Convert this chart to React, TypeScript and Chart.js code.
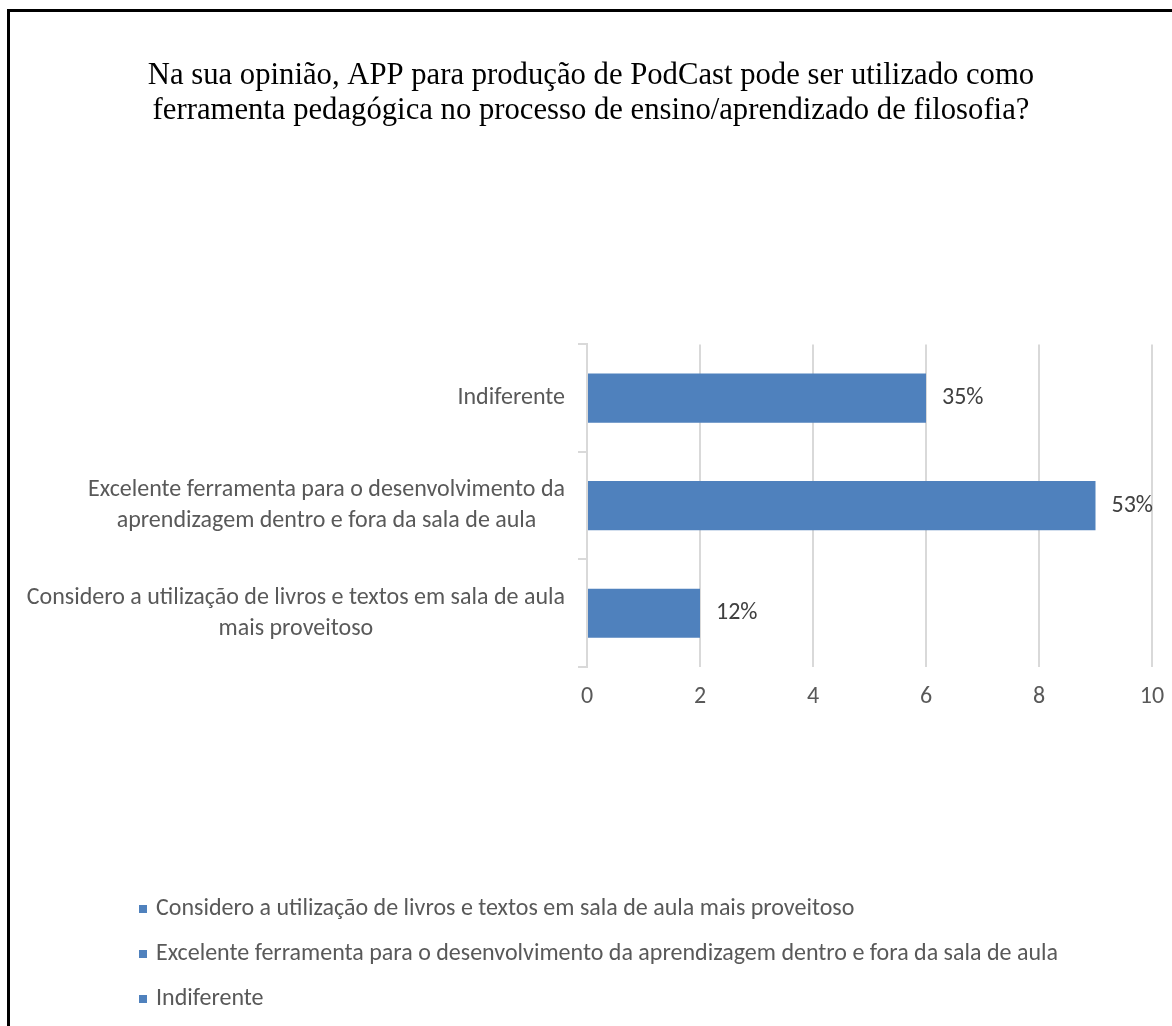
import React, { useEffect, useRef } from 'react';
import { Chart, registerables } from 'chart.js';

Chart.register(...registerables);

const titleLines = [
  'Na sua opinião, APP para produção de PodCast pode ser utilizado como',
  'ferramenta pedagógica no processo de ensino/aprendizado de filosofia?',
];
const categories = [
  'Considero a utilização de livros e textos em sala de aula mais proveitoso',
  'Excelente ferramenta para o desenvolvimento da aprendizagem dentro e fora da sala de aula',
  'Indiferente',
];
const categoryLabelLines = [
  ['Considero a utilização de livros e textos em sala de aula', 'mais proveitoso'],
  ['Excelente ferramenta para o desenvolvimento da', 'aprendizagem dentro e fora da sala de aula'],
  ['Indiferente'],
];
const values = [2, 9, 6];
const percentLabels = ['12%', '53%', '35%'];
const xMin = 0;
const xMax = 10;
const xStep = 2;

const BAR_COLOR = '#4F81BD';
const FONT = 'Carlito, Calibri, Lato, sans-serif';
const FONT_SIZE = 24;

const customPlugin = {
  id: 'customDecor',
  afterDraw(chart: any) {
    const ctx = chart.ctx as CanvasRenderingContext2D;
    const yScale = chart.scales.y;
    const meta = chart.getDatasetMeta(0);
    ctx.save();
    ctx.font = `${FONT_SIZE}px ${FONT}`;

    // data labels
    ctx.fillStyle = '#404040';
    ctx.textAlign = 'left';
    ctx.textBaseline = 'middle';
    meta.data.forEach((bar: any, i: number) => {
      ctx.fillText(percentLabels[i], bar.x + 16, bar.y);
    });

    // category labels (block right-aligned, lines centred)
    ctx.fillStyle = '#595959';
    ctx.textAlign = 'center';
    const right = yScale.right - 22;
    const lh = 31;
    categoryLabelLines.forEach((lines, i) => {
      const cy = yScale.getPixelForValue(i);
      const w = Math.max(...lines.map((l) => ctx.measureText(l).width));
      const cx = right - w / 2;
      lines.forEach((l, j) => {
        ctx.fillText(l, cx, cy + (j - (lines.length - 1) / 2) * lh);
      });
    });

    // legend (vertical list)
    const area = chart.chartArea;
    const startY = area.bottom + 242;
    const gap = 45;
    ctx.textAlign = 'left';
    categories.forEach((c, i) => {
      const y = startY + i * gap;
      ctx.fillStyle = BAR_COLOR;
      ctx.fillRect(129, y - 4, 8, 8);
      ctx.fillStyle = '#595959';
      ctx.fillText(c, 146, y);
    });
    ctx.restore();
  },
};

export default function App() {
  const ref = useRef<HTMLCanvasElement | null>(null);
  useEffect(() => {
    if (!ref.current) return;
    const chart = new Chart(ref.current, {
      type: 'bar',
      data: {
        labels: categories,
        datasets: [
          {
            data: values,
            backgroundColor: BAR_COLOR,
            borderColor: BAR_COLOR,
            borderWidth: 0,
            barPercentage: 0.457,
            categoryPercentage: 1,
          },
        ],
      },
      options: {
        indexAxis: 'y',
        animation: false,
        responsive: false,
        maintainAspectRatio: false,
        layout: { padding: { left: 20, right: 20, top: 0, bottom: 309 } },
        plugins: {
          legend: { display: false },
          tooltip: { enabled: false },
          title: {
            display: true,
            text: titleLines,
            color: '#000000',
            font: {
              family: '"Liberation Serif", "Times New Roman", serif',
              size: 30.7,
              weight: 'normal',
              lineHeight: 1.13,
            },
            padding: { top: 47, bottom: 216 },
          },
        },
        scales: {
          x: {
            type: 'linear',
            min: xMin,
            max: xMax,
            ticks: {
              stepSize: xStep,
              color: '#595959',
              font: { family: FONT, size: FONT_SIZE },
              padding: 16,
            },
            grid: { color: '#d9d9d9', lineWidth: 2, drawTicks: false },
            border: { display: false },
            afterFit: (s: any) => {
              s.height = 50;
              s.paddingLeft = 0;
              s.paddingRight = 0;
            },
          },
          y: {
            type: 'category',
            reverse: true,
            ticks: { display: false },
            grid: {
              offset: true,
              drawOnChartArea: false,
              drawTicks: true,
              tickLength: 9,
              color: '#d9d9d9',
              lineWidth: 2,
            },
            border: { display: true, color: '#d9d9d9', width: 2 },
            afterFit: (s: any) => {
              s.width = 557;
              s.paddingTop = 0;
              s.paddingBottom = 0;
            },
          },
        },
      },
      plugins: [customPlugin],
    } as any);
    return () => chart.destroy();
  }, []);

  return (
    <div
      style={{
        position: 'absolute',
        left: 7,
        top: 9,
        width: 1165,
        height: 1017,
        borderLeft: '3px solid #000',
        borderTop: '3px solid #000',
        boxSizing: 'border-box',
        background: '#fff',
      }}
    >
      <canvas ref={ref} width={1162} height={1014} style={{ display: 'block' }} />
    </div>
  );
}
